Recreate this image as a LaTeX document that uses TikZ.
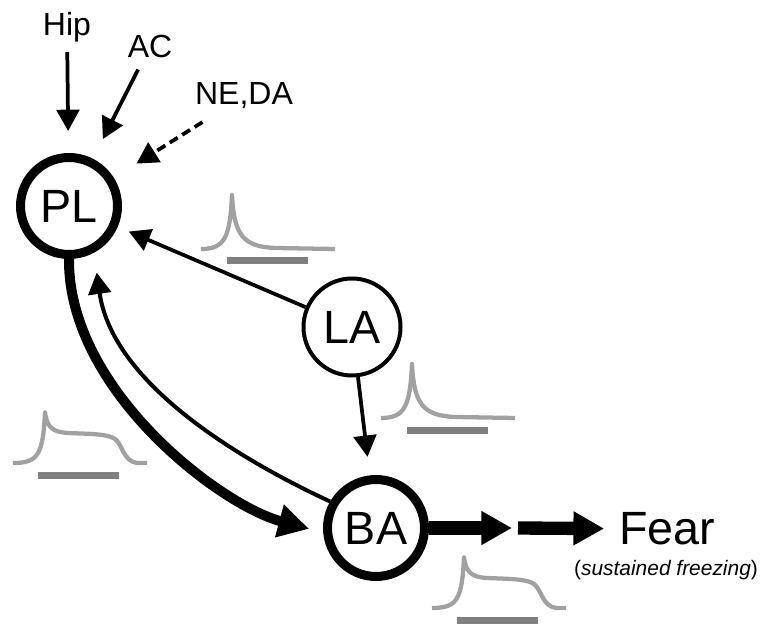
\documentclass[tikz,border=0pt]{standalone}
\usepackage{fontspec}
\setmainfont{Liberation Sans}
\usetikzlibrary{arrows.meta}
\definecolor{traceg}{gray}{0.63}
\definecolor{stimg}{gray}{0.5}

\begin{document}
\begin{tikzpicture}[x=0.75pt, y=-0.75pt,
        area/.style={circle, draw, fill=white, minimum size=72.75pt, inner sep=0pt,
        font=\fontsize{35}{40}\selectfont},
        lbl/.style={inner sep=0pt, font=\fontsize{24}{28}\selectfont},
        thin/.style={line width=2.8pt, -{Triangle[length=16pt, width=17pt]}},
        fat/.style={line width=7.5pt, -{Triangle[length=23pt, width=24pt]}},
        trace/.style={draw=traceg, line width=3.2pt, line join=round},
        stim/.style={draw=stimg, line width=5.25pt}]
    \useasboundingbox (0,0) rectangle (760,627);
    % areas
    \node[area, line width=6.75pt] (PL) at (69,206) {PL};
    \node[area, line width=3pt] (LA) at (352,327) {LA};
    \node[area, line width=6.75pt] (BA) at (376,528) {BA};
    % inputs and output
    \node[lbl] (Hip) at (67,27) {Hip};
    \node[lbl] (AC) at (150,46) {AC};
    \node[lbl] (NEDA) at (244,96) {NE,DA};
    \node[inner sep=0pt, font=\fontsize{35}{40}\selectfont] (Fear) at (667,529) {Fear};
    \node[inner sep=0pt, font=\fontsize{15.7}{18}\selectfont] (freeze) at (666,570)
        {(\textit{sustained freezing})};
    \coordinate (out1) at (512,528);
    \coordinate (out2) at (518,528);
    % connections
    \draw[thin, shorten <=7.5pt, shorten >=16.5pt] (Hip) -- (PL);
    \draw[thin, shorten <=10pt, shorten >=16.5pt] (AC) -- (PL);
    \draw[thin, dash pattern=on 7pt off 4pt, shorten <=18pt, shorten >=20pt] (NEDA) -- (PL);
    \draw[thin, shorten >=9pt] (LA) -- (PL);
    \draw[thin, shorten >=14pt] (LA) -- (BA);
    \draw[thin, line width=3pt, shorten >=15pt] (BA.150) .. controls (230,455) and (112,380) .. (PL.-62);
    \draw[fat, shorten >=11pt] (PL.south) .. controls (68,390) and (220,505) .. (BA.185);
    \draw[fat, line width=10pt] (BA) -- (out1);
    \draw[fat, line width=10pt, shorten >=11pt] (out2) -- (Fear);
    % responses
    \foreach \x/\y in {201/249, 381/418}
    {
        \draw[trace, shift={(\x,\y)}] (0,0) .. controls (24,0) and (29,-12) .. (31,-54)
            .. controls (33,-14) and (42,-2) .. (75,-1) -- (134,0);
        \draw[stim, shift={(\x,\y)}] (26,12) -- (107,12);
    }
    \foreach \x/\y in {13/463, 432/608}
    {
        \draw[trace, shift={(\x,\y)}] (0,0) .. controls (25,0) and (30,-8) .. (32,-51)
            .. controls (34,-35) and (40,-31) .. (55,-30) .. controls (80,-29) and (95,-29) .. (102,-24)
            .. controls (110,-18) and (110,-2) .. (124,0) -- (134,0);
        \draw[stim, shift={(\x,\y)}] (25,12) -- (106,12);
    }
\end{tikzpicture}
\end{document}
